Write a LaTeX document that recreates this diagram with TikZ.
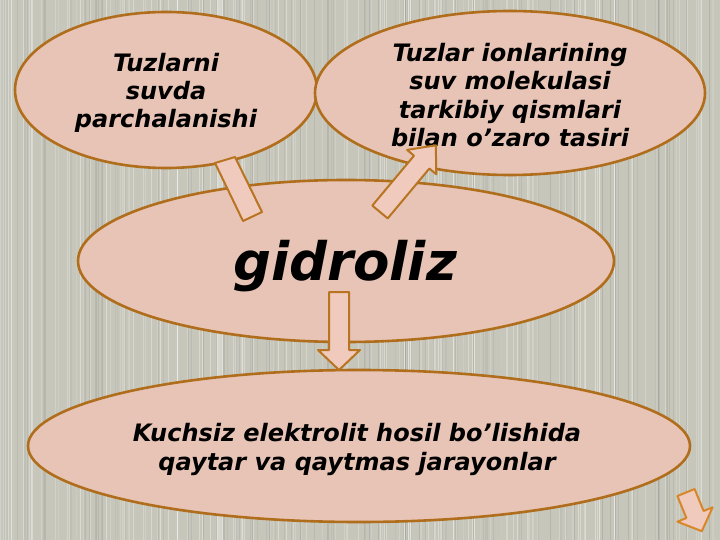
\documentclass[tikz,border=0pt]{standalone}
\usepackage{fontspec}
\setmainfont{DejaVu Sans}
\usetikzlibrary{shapes.geometric}
\definecolor{bgc}{HTML}{C6C6BB}
\definecolor{ellfill}{HTML}{E8C4B6}
\definecolor{ellline}{HTML}{B06E1C}
\definecolor{arrfill}{HTML}{EFCABD}
\definecolor{arrline}{HTML}{B87420}
\definecolor{arr4line}{HTML}{D8862A}
\tikzset{
  bubble/.style={ellipse, draw=ellline, fill=ellfill, line width=2.6pt, inner sep=0pt},
  txt/.style={align=center, text=black, inner sep=0pt,
    font=\fontsize{24}{28.3}\selectfont\bfseries\itshape},
  blockarrow/.style={draw=arrline, fill=arrfill, line width=2pt, line join=round}
}
\begin{document}
\begin{tikzpicture}[x=1pt,y=-1pt]
\useasboundingbox (0,0) rectangle (720,540);
\fill[bgc] (0,0) rectangle (720,540);
\pgfmathsetseed{11}
\foreach \i in {1,...,170}{
  \pgfmathsetmacro\xx{rnd*720}
  \pgfmathsetmacro\op{0.1+rnd*0.3}
  \draw[white, opacity=\op, line width=0.7pt] (\xx,0) -- (\xx,540);
}
\foreach \i in {1,...,110}{
  \pgfmathsetmacro\xx{rnd*720}
  \pgfmathsetmacro\op{0.06+rnd*0.14}
  \draw[black!60, opacity=\op, line width=0.6pt] (\xx,0) -- (\xx,540);
}
% ellipses
\node[bubble, minimum width=302pt, minimum height=156pt] (tl) at (166,90) {};
\node[bubble, minimum width=390pt, minimum height=164pt] (tr) at (510,93) {};
\node[bubble, minimum width=536pt, minimum height=162pt] (mid) at (346,261) {};
\node[bubble, minimum width=662pt, minimum height=152pt] (bot) at (359,446) {};
% texts
\node[txt] (tltext) at (166,93) {Tuzlarni\\suvda\\parchalanishi};
\node[txt] (trtext) at (510,95) {Tuzlar ionlarining\\suv molekulasi\\tarkibiy qismlari\\bilan o’zaro tasiri};
\node[txt, font=\fontsize{53}{60}\selectfont\bfseries\itshape] (midtext) at (345,266) {gidroliz};
\node[txt, font=\fontsize{24}{29}\selectfont\bfseries\itshape] (bottext) at (357,449)
  {Kuchsiz elektrolit hosil bo’lishida\\qaytar va qaytmas jarayonlar};
% block arrows
\draw[blockarrow] (215,163) -- (235,157) -- (262,212) -- (243,221) -- cycle;
\draw[blockarrow] (372.3,205.6) -- (414.0,155.7) -- (407.1,149.9) -- (435.8,145.3)
  -- (436.3,174.3) -- (429.4,168.5) -- (387.7,218.4) -- cycle;
\draw[blockarrow] (329,292) -- (349,292) -- (349,350) -- (360,350) -- (339,370)
  -- (318,350) -- (329,350) -- cycle;
\draw[blockarrow, draw=arr4line] (677.4,496.0) -- (694.6,489.0) -- (703.6,511.0)
  -- (712.6,507.3) -- (701.8,531.2) -- (677.4,521.7) -- (686.4,518.0) -- cycle;
\end{tikzpicture}
\end{document}
